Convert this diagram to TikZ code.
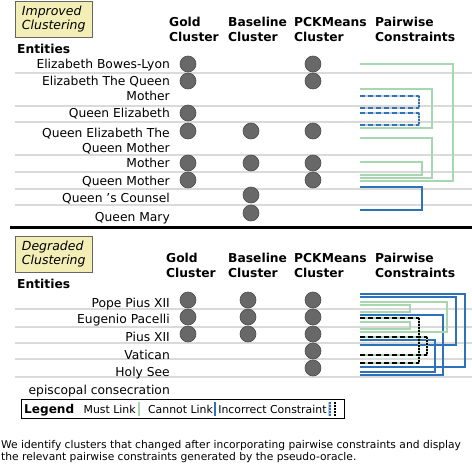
\documentclass[tikz,border=0pt]{standalone}
\usepackage{fontspec}
\setmainfont{DejaVu Sans}
\usepackage{tikz}
\usetikzlibrary{positioning, calc}
\definecolor{mustgreen}{RGB}{166,215,176}
\definecolor{cannotblue}{RGB}{46,114,186}
\definecolor{rowgray}{RGB}{218,218,218}
\definecolor{dotgray}{RGB}{104,104,104}
\definecolor{tagfill}{RGB}{243,238,182}
\definecolor{wronggray}{RGB}{196,206,218}
\tikzset{
  tag/.style={rectangle, draw=black!60, fill=tagfill, line width=0.8pt,
    anchor=north west, align=left, inner xsep=6pt, minimum width=77pt,
    minimum height=36pt, text width=64pt, font=\fontsize{12.5}{14}\selectfont\itshape},
  head/.style={anchor=base west, align=left, inner sep=0pt,
    font=\fontsize{12.3}{15}\selectfont\bfseries},
  entity/.style={anchor=base east, align=right, inner sep=0pt,
    font=\fontsize{12.3}{15.5}\selectfont},
  dot/.style={circle, draw=black!70, fill=dotgray, minimum size=16pt,
    inner sep=0pt, line width=0.6pt},
  rowline/.style={draw=rowgray, line width=1.2pt},
  mustlink/.style={draw=mustgreen, line width=2.2pt},
  cannotlink/.style={draw=cannotblue, line width=2.2pt},
  wrongbase/.style={draw=#1, line width=2.8pt},
  wrongdash/.style={draw=#1, line width=1.5pt, dash pattern=on 5pt off 3pt},
  wrongdot/.style={draw=#1, line width=1.5pt, dash pattern=on 1.5pt off 1.5pt},
  legtext/.style={anchor=base west, inner sep=0pt, font=\fontsize{10.9}{12}\selectfont},
}

\begin{document}
\begin{tikzpicture}[x=1pt, y=-1pt]
  \useasboundingbox (0,0) rectangle (472,466);

  % Improved clustering
  \node[tag] (imptag) at (15,1) {Improved\\Clustering};
  \node[head] (hgold)  at (169,41.5) {Gold\\Cluster};
  \node[head] (hbase)  at (228,41.5) {Baseline\\Cluster};
  \node[head] (hpck)   at (294,41.5) {PCKMeans\\Cluster};
  \node[head] (hpair)  at (375,41.5) {Pairwise\\Constraints};
  \node[head] (hent)   at (17,53.5)  {Entities};

  \foreach \y in {73,106,122,155,172,189,205}
    \draw[rowline] (15,\y) -- (472,\y);

  \node[entity] (bowes) at (170,68.5)  {Elizabeth Bowes-Lyon};
  \node[entity] (etqm)  at (170,100.5) {Elizabeth The Queen\\Mother};
  \node[entity] (qe)    at (170,117.5) {Queen Elizabeth};
  \node[entity] (qetqm) at (170,152.5) {Queen Elizabeth The\\Queen Mother};
  \node[entity] (moth)  at (170,167.5) {Mother};
  \node[entity] (qmoth) at (170,185.5) {Queen Mother};
  \node[entity] (qcoun) at (170,202.5) {Queen 's Counsel};
  \node[entity] (qmary) at (170,221)   {Queen Mary};

  \foreach \n/\x/\y in {gbowes/188/64, getqm/188/81, gqe/188/113, gqetqm/188/131,
      gmoth/188/163, gqmoth/188/180, bqetqm/251/131, bmoth/251/163,
      bqcoun/251/195, bqmary/251/213, pbowes/313/64, petqm/313/81,
      pqetqm/313/131, pmoth/313/163, pqmoth/313/180}
    \node[dot] (\n) at (\x,\y) {};

  % Pairwise constraints (improved)
  \foreach \ya/\yb/\xr in {64/181/453, 89/128/432, 138/178/432, 162/175/422}
    \draw[mustlink] (360,\ya) -| (\xr,\yb) -- (360,\yb);
  \draw[cannotlink] (360,187) -| (422,210) -- (360,210);
  \foreach \ya/\yb/\xr in {96/108/419, 113/125/419} {
    \draw[wrongbase=wronggray] (360,\ya) -| (\xr,\yb) -- (360,\yb);
    \draw[wrongdash=cannotblue] (360,\ya) -- (\xr,\ya) (360,\yb) -- (\xr,\yb);
    \draw[wrongdot=cannotblue] (\xr,\ya) -- (\xr,\yb);
  }

  \draw[line width=3pt] (10,227) -- (472,227);

  % Degraded clustering
  \node[tag] (degtag) at (15,236) {Degraded\\Clustering};
  \node[head] (dgold)  at (166,277.5) {Gold\\Cluster};
  \node[head] (dbase)  at (228,277.5) {Baseline\\Cluster};
  \node[head] (dpck)   at (294,277.5) {PCKMeans\\Cluster};
  \node[head] (dpair)  at (375,277.5) {Pairwise\\Constraints};
  \node[head] (dent)   at (17,288.5)  {Entities};

  \foreach \y in {309,327,343,359,377}
    \draw[rowline] (15,\y) -- (472,\y);

  \node[entity] (ppx)  at (170,307.5) {Pope Pius XII};
  \node[entity] (ep)   at (170,323.5) {Eugenio Pacelli};
  \node[entity] (px)   at (170,341.5) {Pius XII};
  \node[entity] (vat)  at (170,359.5) {Vatican};
  \node[entity] (hs)   at (170,376.5) {Holy See};
  \node[entity] (epis) at (170,394.5) {episcopal consecration};

  \foreach \n/\x/\y in {gppx/188/300, gep/188/317, gpx/188/334,
      bppx/248/300, bep/248/317, bpx/248/334,
      pppx/313/300, pep/313/317, ppx2/313/334, pvat/313/351, phs/313/368}
    \node[dot] (\n) at (\x,\y) {};

  % Pairwise constraints (degraded)
  \foreach \ya/\yb/\xr in {294/367/465, 297/345/456, 315/375/443, 340/372/435}
    \draw[cannotlink] (360,\ya) -| (\xr,\yb) -- (360,\yb);
  \foreach \ya/\yb/\xr in {302/332/447, 305/312/410, 322/329/410}
    \draw[mustlink] (360,\ya) -| (\xr,\yb) -- (360,\yb);
  \foreach \ya/\yb/\xr in {318/363/419, 337/355/427} {
    \draw[wrongbase=mustgreen] (360,\ya) -| (\xr,\yb) -- (360,\yb);
    \draw[wrongdash=black] (360,\ya) -- (\xr,\ya) (360,\yb) -- (\xr,\yb);
    \draw[wrongdot=black] (\xr,\ya) -- (\xr,\yb);
  }

  % Legend
  \draw[line width=1pt] (21,399) rectangle (344,418);
  \node[legtext, font=\fontsize{12.1}{13}\selectfont\bfseries] (legtitle) at (24,413) {Legend};
  \node[legtext, right=9pt of legtitle.base east, anchor=base west] (must) {Must Link};
  \draw[mustlink] ([xshift=3pt]must.east |- 0,402) -- ([xshift=3pt]must.east |- 0,416);
  \node[legtext, right=12pt of must.base east, anchor=base west] (cannot) {Cannot Link};
  \draw[cannotlink] ([xshift=2pt]cannot.east |- 0,402) -- ([xshift=2pt]cannot.east |- 0,416);
  \node[legtext, right=5pt of cannot.base east, anchor=base west] (wrong) {Incorrect Constraint};
  \draw[wrongbase=wronggray] ([xshift=3pt]wrong.east |- 0,402) -- ([xshift=3pt]wrong.east |- 0,416);
  \draw[wrongdot=cannotblue] ([xshift=3pt]wrong.east |- 0,402) -- ([xshift=3pt]wrong.east |- 0,416);
  \draw[wrongdot=black] ([xshift=8pt]wrong.east |- 0,402) -- ([xshift=8pt]wrong.east |- 0,416);

  % Caption
  \node[anchor=north west, align=left, inner sep=0pt,
    font=\fontsize{10.7}{12}\selectfont] (caption) at (1,440)
    {We identify clusters that changed after incorporating pairwise constraints and display\\
     the relevant pairwise constraints generated by the pseudo-oracle.};
\end{tikzpicture}
\end{document}
